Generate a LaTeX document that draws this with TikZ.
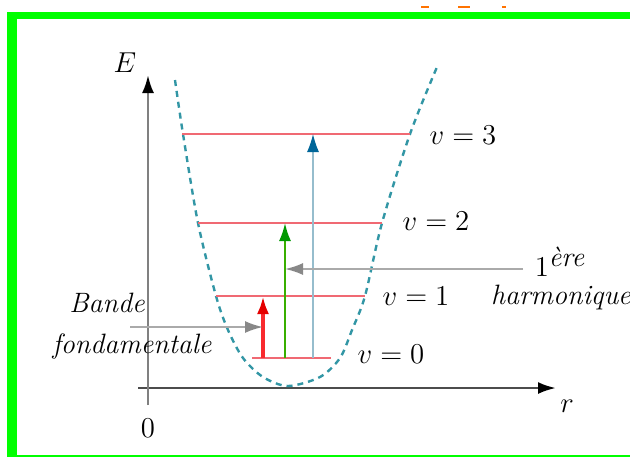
\documentclass[tikz,border=0pt]{standalone}
\usepackage{amssymb}
\usepackage{tikz}
\usetikzlibrary{arrows.meta}

\definecolor{cadre}{RGB}{0,255,0}
\definecolor{puits}{RGB}{50,150,165}
\definecolor{niveau}{RGB}{240,105,115}
\definecolor{fleche}{RGB}{170,170,170}

\begin{document}
\begin{tikzpicture}[x=0.5pt,y=-0.5pt,>=Latex, every node/.style={font=\fontsize{14}{16}\selectfont}]
    \useasboundingbox (0,0) rectangle (630,457);
    % cadre vert
    \fill[cadre] (7,12) rectangle (630,19);
    \fill[cadre] (7,12) rectangle (17,457);
    \fill[cadre] (7,455) rectangle (630,457);
    \fill[orange!90!red] (421,6) rectangle (429,8);
    \fill[orange!90!red] (458,6) rectangle (470,8);
    \fill[orange!90!red] (502,6) rectangle (506,8);

    % axes
    \coordinate (o) at (148,388);
    \coordinate (xa) at (138,388);
    \coordinate (xb) at (556,388);
    \coordinate (ya) at (148,405);
    \coordinate (yb) at (148,75);
    \draw[black!70, line width=1.3pt, -{Latex[black,length=9pt,width=6pt]}] (xa)--(xb);
    \draw[black!50, line width=1.3pt, -{Latex[black,length=9pt,width=6pt]}] (ya)--(yb);
    \node (E) at (125,63) {$E$};
    \node (r) at (567,406) {$r$};
    \node (zero) at (148,428) {$0$};

    % puits de potentiel
    \draw[puits, line width=1.2pt, dash pattern=on 3pt off 2.5pt] plot[smooth] coordinates
        {(175,80) (183,134) (198,223) (216,296) (228,330) (243,358) (263,377) (288,386)
         (320,377) (340,358) (352,330) (365,296) (382,223) (410,134) (437,67)};

    % niveaux
    \coordinate (n0a) at (252,358); \coordinate (n0b) at (331,358);
    \coordinate (n1a) at (216,296); \coordinate (n1b) at (365,296);
    \coordinate (n2a) at (198,223); \coordinate (n2b) at (382,223);
    \coordinate (n3a) at (182,134); \coordinate (n3b) at (410,134);
    \foreach \i in {0,...,3}
        \draw[niveau, line width=1.3pt] (n\i a)--(n\i b);

    \node (v3) at (463,135) {$v=3$};
    \node (v2) at (436,221) {$v=2$};
    \node (v1) at (416,296) {$v=1$};
    \node (v0) at (391,354) {$v=0$};

    % transitions
    \coordinate (t1) at (263,358);
    \coordinate (t2) at (285,358);
    \coordinate (t3) at (313,358);
    \draw[red!60!niveau, line width=2pt, -{Latex[red!90!black,length=9pt,width=6pt]}] (t1)--(t1 |- n1a);
    \draw[green!55!black!70!lime, line width=1pt, -{Latex[green!60!black,length=9pt,width=6pt]}] (t2)--(t2 |- n2a);
    \draw[cyan!40!gray!70, line width=0.6pt, -{Latex[teal!80!blue,length=9pt,width=6pt]}] (t3)--(t3 |- n3a);

    % legendes
    \node (bande) at (107,303) {\itshape Bande};
    \node (fond) at (132,346) {\itshape fondamentale};
    \coordinate (bq) at (130,327);
    \draw[fleche, line width=1pt, -{Latex[fleche!80!black,length=9pt,width=6pt]}] (bq)--(t1 |- bq);

    \node (un) at (560,262) {$1^{\textit{\`ere}}$};
    \node (harm) at (561,297) {\itshape harmonique};
    \coordinate (hq) at (523,269);
    \draw[fleche, line width=1pt, -{Latex[fleche!80!black,length=9pt,width=6pt]}] (hq)--(t2 |- hq);
\end{tikzpicture}
\end{document}
